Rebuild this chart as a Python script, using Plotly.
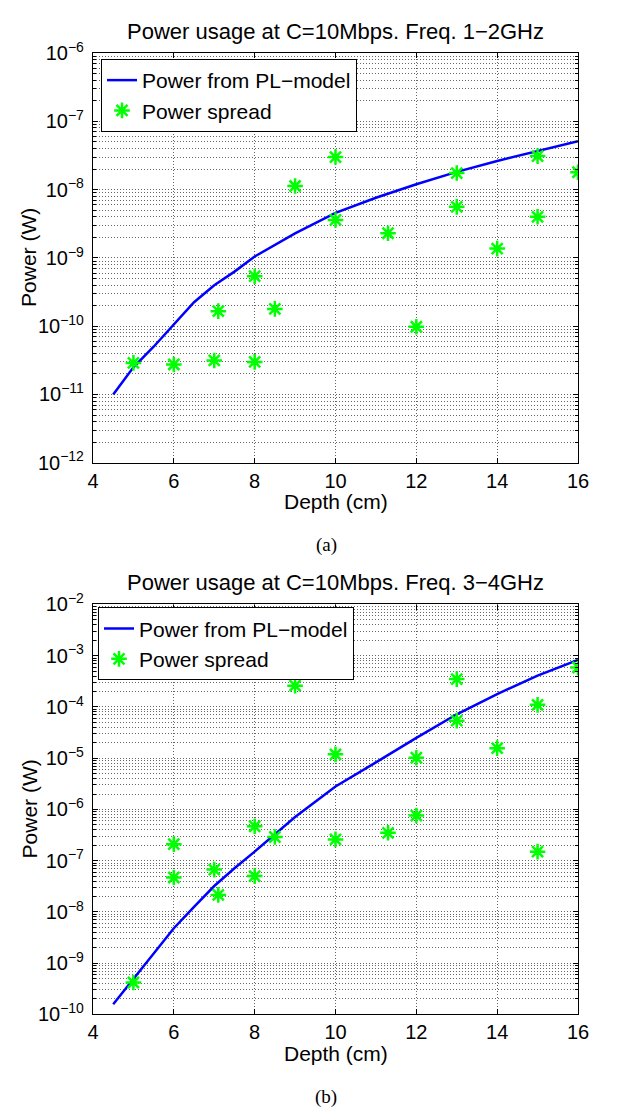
import plotly.graph_objects as go

# ---------------- data ----------------
model_depth = [4.5, 5, 5.5, 6, 6.5, 7, 7.5, 8, 9, 10, 11, 12, 13, 14, 15, 16]
model_power_a = [1.0e-11, 2.5e-11, 5.0e-11, 1.07e-10, 2.24e-10, 3.98e-10, 6.3e-10, 1.05e-9,
                 2.29e-9, 4.57e-9, 7.6e-9, 1.2e-8, 1.82e-8, 2.63e-8, 3.72e-8, 5.13e-8]
model_power_b = [1.58e-10, 5.0e-10, 1.58e-9, 4.8e-9, 1.26e-8, 3.2e-8, 7.1e-8, 1.5e-7,
                 7.1e-7, 2.8e-6, 8.3e-6, 2.5e-5, 7.2e-5, 1.78e-4, 4.1e-4, 8.3e-4]

spread_depth_a = [5, 6, 7, 7.1, 8, 8, 8.5, 9, 10, 10, 11.3, 12, 13, 13, 14, 15, 15, 16]
spread_power_a = [2.9e-11, 2.75e-11, 3.15e-11, 1.66e-10, 3.0e-11, 5.4e-10, 1.79e-10, 1.13e-8,
                  3.0e-8, 3.6e-9, 2.3e-9, 9.8e-11, 1.75e-8, 5.6e-9, 1.37e-9, 3.1e-8, 4.0e-9, 1.8e-8]

spread_depth_b = [5, 6, 6, 7, 7.1, 8, 8, 8.5, 9, 10, 10, 11.3, 12, 12, 13, 13, 14, 15, 15, 16]
spread_power_b = [4.2e-10, 2.1e-7, 4.7e-8, 6.7e-8, 2.15e-8, 4.7e-7, 5.0e-8, 2.9e-7, 2.6e-4,
                  1.19e-5, 2.6e-7, 3.5e-7, 1.02e-5, 7.6e-7, 3.5e-4, 5.4e-5, 1.57e-5, 1.1e-4,
                  1.5e-7, 5.9e-4]

x_ticks = [4, 6, 8, 10, 12, 14, 16]
decades_a = list(range(-12, -5))
decades_b = list(range(-10, -1))

titles = ["Power usage at C=10Mbps. Freq. 1\u22122GHz", "Power usage at C=10Mbps. Freq. 3\u22124GHz"]
captions = ["(a)", "(b)"]
legend_names = ["Power from PL\u2212model", "Power spread"]
x_title = "Depth (cm)"
y_title = "Power (W)"

# ---------------- figure ----------------
W, H = 618, 1117
L, R = 93, 40
PW = W - L - R
FONT = "Liberation Sans, Arial, sans-serif"
TICK_FS = 20
LAB_FS = 21
TITLE_FS = 22
LEG_FS = 21

def py(p):
    return 1 - p / H

fig = go.Figure()

def line_trace(x, y, xa, ya, leg):
    return go.Scatter(x=x, y=y, mode="lines", name=legend_names[0],
                      line=dict(color="#0000ff", width=2.5), xaxis=xa, yaxis=ya, legend=leg)

def marker_trace(x, y, xa, ya, leg):
    return go.Scatter(x=x, y=y, mode="markers", name=legend_names[1],
                      marker=dict(symbol="asterisk-open", size=13, color="#00ff00",
                                  line=dict(color="#00ff00", width=2.5)),
                      xaxis=xa, yaxis=ya, legend=leg)

fig.add_trace(line_trace(model_depth, model_power_a, "x", "y", "legend"))
fig.add_trace(marker_trace(spread_depth_a, spread_power_a, "x", "y", "legend"))
fig.add_trace(line_trace(model_depth, model_power_b, "x2", "y2", "legend2"))
fig.add_trace(marker_trace(spread_depth_b, spread_power_b, "x2", "y2", "legend2"))

GRID = "rgba(0,0,0,0.6)"
DASH = "1px,2px"

def xaxis(anchor):
    return dict(range=[4, 16], tickvals=x_ticks, ticktext=[str(v) for v in x_ticks],
                ticks="inside", ticklen=5, tickcolor="black", showline=True, linecolor="black",
                linewidth=1.2, mirror="ticks", showgrid=True, gridcolor=GRID, griddash=DASH,
                gridwidth=1, zeroline=False, anchor=anchor, ticklabelstandoff=0,
                tickfont=dict(family=FONT, size=TICK_FS, color="black"), domain=[0, 1])

def yaxis(decs, domain, anchor):
    minor_vals = [m * 10 ** d for d in decs[:-1] for m in range(2, 10)]
    return dict(type="log", range=[decs[0], decs[-1]], domain=domain, anchor=anchor,
                tickvals=[10 ** d for d in decs],
                ticktext=["10<sup>\u2212%d</sup>" % (-d) for d in decs],
                ticks="inside", ticklen=5, tickcolor="black", showline=True, linecolor="black",
                linewidth=1.2, mirror="ticks", showgrid=True, gridcolor=GRID, griddash=DASH,
                gridwidth=1, zeroline=False, ticklabelstandoff=4,
                tickfont=dict(family=FONT, size=TICK_FS, color="black"),
                minor=dict(tickvals=minor_vals, ticks="inside", ticklen=3, tickcolor="black",
                           showgrid=True, gridcolor=GRID, griddash=DASH, gridwidth=1))

top = [40, 459]
bot = [604, 1023.3]

fig.update_layout(
    width=W, height=H, margin=dict(l=L, r=R, t=0, b=0),
    paper_bgcolor="white", plot_bgcolor="white",
    font=dict(family=FONT, size=TICK_FS, color="black"),
    xaxis=xaxis("y"),
    yaxis=yaxis(decades_a, [py(top[1]), py(top[0])], "x"),
    xaxis2=xaxis("y2"),
    yaxis2=yaxis(decades_b, [py(bot[1]), py(bot[0])], "x2"),
    legend=dict(x=(101 - L) / PW, y=py(46), xanchor="left", yanchor="top",
                bordercolor="black", borderwidth=1, bgcolor="white",
                font=dict(family=FONT, size=LEG_FS, color="black"), tracegroupgap=0),
    legend2=dict(x=(98 - L) / PW, y=py(607), xanchor="left", yanchor="top",
                 bordercolor="black", borderwidth=1, bgcolor="white",
                 font=dict(family=FONT, size=LEG_FS, color="black"), tracegroupgap=0),
    showlegend=True,
)

ann = []
for i, (t0, t1) in enumerate([top, bot]):
    ann.append(dict(text=titles[i], x=0.5, y=py(t0 - 22), xref="paper", yref="paper",
                    xanchor="center", yanchor="middle", showarrow=False,
                    font=dict(family=FONT, size=TITLE_FS, color="black")))
    ann.append(dict(text=x_title, x=0.5, y=py(t1 + 40), xref="paper", yref="paper",
                    xanchor="center", yanchor="middle", showarrow=False,
                    font=dict(family=FONT, size=LAB_FS, color="black")))
    ann.append(dict(text=y_title, x=(29 - L) / PW, y=py((t0 + t1) / 2), xref="paper",
                    yref="paper", xanchor="center", yanchor="middle", showarrow=False,
                    textangle=-90, font=dict(family=FONT, size=LAB_FS, color="black")))
    ann.append(dict(text=captions[i], x=(326 - L) / PW, y=py(t1 + 84), xref="paper",
                    yref="paper", xanchor="center", yanchor="middle", showarrow=False,
                    font=dict(family="Liberation Serif, Times New Roman, serif", size=19,
                              color="black")))
fig.update_layout(annotations=ann)

fig.write_html("out.html")
